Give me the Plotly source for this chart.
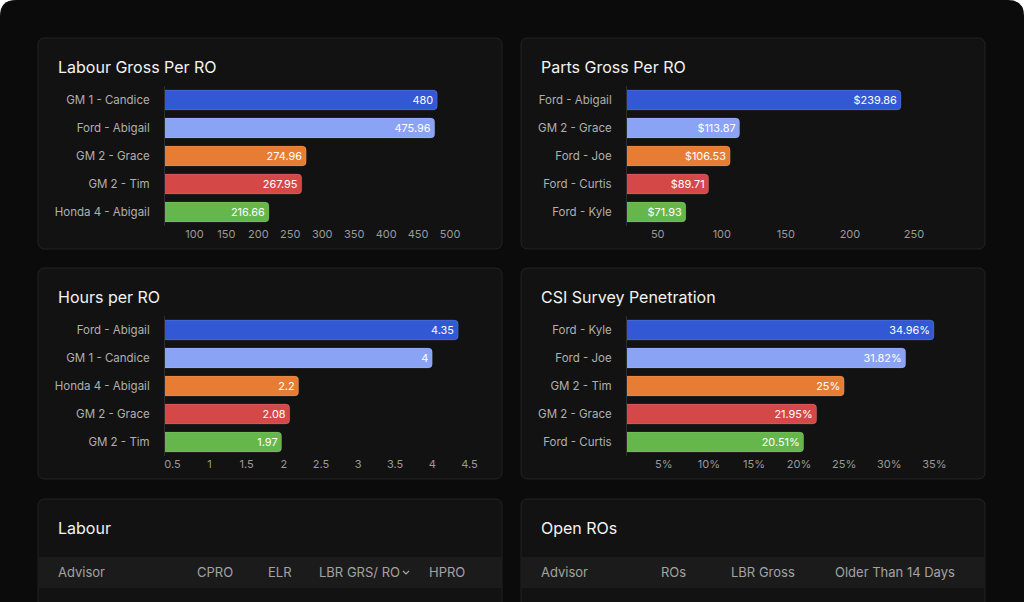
import plotly.graph_objects as go

W, H = 1024, 602

# ---------------- data ----------------
labour_names = ["GM 1 - Candice", "Ford - Abigail", "GM 2 - Grace", "GM 2 - Tim", "Honda 4 - Abigail"]
labour_vals = [480, 475.96, 274.96, 267.95, 216.66]
labour_ticks = [100, 150, 200, 250, 300, 350, 400, 450, 500]

parts_names = ["Ford - Abigail", "GM 2 - Grace", "Ford - Joe", "Ford - Curtis", "Ford - Kyle"]
parts_vals = [239.86, 113.87, 106.53, 89.71, 71.93]
parts_ticks = [50, 100, 150, 200, 250]

hours_names = ["Ford - Abigail", "GM 1 - Candice", "Honda 4 - Abigail", "GM 2 - Grace", "GM 2 - Tim"]
hours_vals = [4.35, 4, 2.2, 2.08, 1.97]
hours_ticks = [0.5, 1, 1.5, 2, 2.5, 3, 3.5, 4, 4.5]

csi_names = ["Ford - Kyle", "Ford - Joe", "GM 2 - Tim", "GM 2 - Grace", "Ford - Curtis"]
csi_vals = [34.96, 31.82, 25, 21.95, 20.51]
csi_ticks = [5, 10, 15, 20, 25, 30, 35]

bar_colors = ["#3358d4", "#8ba3f5", "#e77d35", "#d44848", "#66b74b"]

labour_headers = ["Advisor", "CPRO", "ELR", "LBR GRS/ RO", "HPRO"]
open_headers = ["Advisor", "ROs", "LBR Gross", "Older Than 14 Days"]

FONT = "Inter, Noto Sans, sans-serif"

def px(x):
    return x / W

def py(y):
    return 1 - y / H

def rrect(x0, y0, x1, y1, r):
    pts = [
        f"M {px(x0 + r)} {py(y0)}",
        f"L {px(x1 - r)} {py(y0)}",
        f"Q {px(x1)} {py(y0)} {px(x1)} {py(y0 + r)}",
        f"L {px(x1)} {py(y1 - r)}",
        f"Q {px(x1)} {py(y1)} {px(x1 - r)} {py(y1)}",
        f"L {px(x0 + r)} {py(y1)}",
        f"Q {px(x0)} {py(y1)} {px(x0)} {py(y1 - r)}",
        f"L {px(x0)} {py(y0 + r)}",
        f"Q {px(x0)} {py(y0)} {px(x0 + r)} {py(y0)}",
        "Z",
    ]
    return " ".join(pts)

fig = go.Figure()

panels = [
    (labour_names, labour_vals, labour_ticks, [str(t) for t in labour_ticks], [54, 550],
     [f"{v:g}" for v in labour_vals], 1, (165, 482), (86, 226)),
    (parts_names, parts_vals, parts_ticks, [str(t) for t in parts_ticks], [26, 289.8],
     [f"${v:.2f}" for v in parts_vals], 2, (627, 965), (86, 226)),
    (hours_names, hours_vals, hours_ticks, [f"{t:g}" for t in hours_ticks], [0.40, 4.67],
     [f"{v:g}" for v in hours_vals], 3, (165, 482), (316, 456)),
    (csi_names, csi_vals, csi_ticks, [f"{t}%" for t in csi_ticks], [0.92, 38.4],
     [f"{v:g}%" for v in csi_vals], 4, (627, 965), (316, 456)),
]

layout_axes = {}
for names, vals, ticks, ticktext, rng, labels, i, (xa, xb), (ya, yb) in panels:
    xs = "x" if i == 1 else f"x{i}"
    ys = "y" if i == 1 else f"y{i}"
    fig.add_trace(go.Bar(
        x=vals, y=names, orientation="h",
        marker=dict(color=bar_colors, cornerradius=4,
                    line=dict(width=1, color="rgba(255,255,255,0.12)")),
        text=labels, texttemplate="%{text}", textposition="inside", insidetextanchor="end",
        textangle=0,
        textfont=dict(color="#ffffff", size=11, family=FONT),
        cliponaxis=True, xaxis=xs, yaxis=ys, showlegend=False,
        hoverinfo="skip",
    ))
    xk = "xaxis" if i == 1 else f"xaxis{i}"
    yk = "yaxis" if i == 1 else f"yaxis{i}"
    layout_axes[xk] = dict(
        domain=[px(xa), px(xb)], range=rng, anchor=ys,
        tickmode="array", tickvals=ticks, ticktext=ticktext,
        showgrid=False, zeroline=False, showline=False, ticks="",
        tickfont=dict(color="#9a9a9a", size=11, family=FONT),
        fixedrange=True,
    )
    layout_axes[yk] = dict(
        domain=[py(yb), py(ya)], anchor=xs, autorange="reversed",
        showgrid=False, zeroline=False, showline=True,
        linecolor="#2e2e2e", linewidth=1, ticks="",
        ticklabelstandoff=12,
        tickfont=dict(color="#b0b0b0", size=11.5, family=FONT),
        fixedrange=True,
    )

shapes = []
shapes.append(dict(type="path", xref="paper", yref="paper",
                   path=rrect(0, 0, W, H + 40, 16),
                   fillcolor="#0b0b0b", line=dict(width=0), layer="below"))
panel_boxes = [
    (38, 38, 502, 249), (521, 38, 985, 249),
    (38, 268, 502, 479), (521, 268, 985, 479),
    (38, 499, 502, 640), (521, 499, 985, 640),
]
for (x0, y0, x1, y1) in panel_boxes:
    shapes.append(dict(type="path", xref="paper", yref="paper",
                       path=rrect(x0, y0, x1, y1, 7),
                       fillcolor="#121212", line=dict(width=1, color="#232323"),
                       layer="below"))
for (x0, x1) in [(39, 501), (522, 984)]:
    shapes.append(dict(type="rect", xref="paper", yref="paper",
                       x0=px(x0), x1=px(x1), y0=py(588), y1=py(557),
                       fillcolor="#1b1b1b", line=dict(width=0), layer="below"))
shapes.append(dict(type="path", xref="paper", yref="paper",
                   path=f"M {px(403)} {py(571)} L {px(406)} {py(574)} L {px(409)} {py(571)}",
                   line=dict(color="#a8a8a8", width=1.2)))

annotations = []
titles = [("Labour Gross Per RO", 56, 67), ("Parts Gross Per RO", 539, 67),
          ("Hours per RO", 56, 297), ("CSI Survey Penetration", 539, 297),
          ("Labour", 56, 528), ("Open ROs", 539, 528)]
for t, x, y in titles:
    annotations.append(dict(text=t, x=px(x), y=py(y), xref="paper", yref="paper",
                            xanchor="left", yanchor="middle", showarrow=False,
                            font=dict(color="#f2f2f2", size=16, family=FONT)))

hdr_font = dict(color="#a3a3a3", size=13, family=FONT)
labour_hdr_x = [(56, "left"), (215, "center"), (280, "center"), (359, "center"), (447, "center")]
for txt, (x, anc) in zip(labour_headers, labour_hdr_x):
    annotations.append(dict(text=txt, x=px(x), y=py(572), xref="paper", yref="paper",
                            xanchor=anc, yanchor="middle", showarrow=False, font=hdr_font))
open_hdr_x = [(539, "left"), (673, "center"), (763, "center"), (895, "center")]
for txt, (x, anc) in zip(open_headers, open_hdr_x):
    annotations.append(dict(text=txt, x=px(x), y=py(572), xref="paper", yref="paper",
                            xanchor=anc, yanchor="middle", showarrow=False, font=hdr_font))

fig.update_layout(
    width=W, height=H, margin=dict(l=0, r=0, t=0, b=0),
    paper_bgcolor="#ffffff", plot_bgcolor="rgba(0,0,0,0)",
    bargap=0.29, shapes=shapes, annotations=annotations,
    font=dict(family=FONT),
    **layout_axes,
)

fig.write_html("out.html", config={"displayModeBar": False},
               post_script="document.body.style.margin='0';document.body.style.overflow='hidden';")
